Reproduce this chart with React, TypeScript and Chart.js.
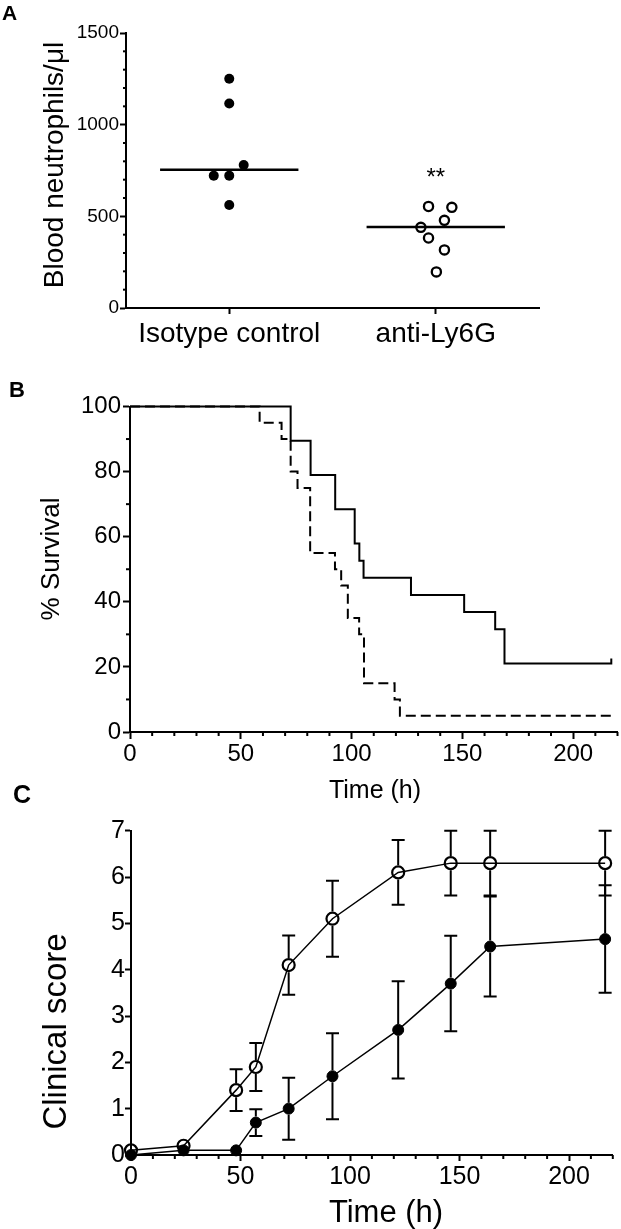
import React, { useEffect, useRef } from 'react';
import { Chart, registerables } from 'chart.js';

Chart.register(...registerables);

const FONT = '"Liberation Sans", Arial, Helvetica, sans-serif';

// ---------- Panel A data ----------
const groupLabels = ['Isotype control', 'anti-Ly6G'];
const groupPositions = [0.5, 1.5];
const isotypeX = [0.5, 0.5, 0.57, 0.425, 0.5, 0.5];
const isotypeY = [1250, 1115, 780, 722, 722, 562];
const antiX = [1.465, 1.578, 1.542, 1.428, 1.465, 1.542, 1.503];
const antiY = [554, 549, 478, 440, 382, 317, 197];
const medians = [754, 442];
const medianHalfWidth = 0.335;
const aYMax = 1500;
const aYStep = 500;
const signifText = '**';
const signifValue = 745;

// ---------- Panel B data (Kaplan-Meier) ----------
const isoTimes = [0, 72.5, 81.5, 92.6, 101.4, 103.5, 105.4, 126.8, 150.8, 164.8, 169, 217.2, 217.2];
const isoSurv = [100, 89.47, 78.95, 68.42, 57.89, 52.63, 47.37, 42.11, 36.84, 31.58, 21.05, 21.05, 22.6];
const antiTimes = [0, 58.5, 68.4, 72.5, 75.6, 81.3, 92.5, 95.3, 98.3, 103.4, 105.6, 119.4, 121.8, 217.2];
const antiSurv = [100, 95, 90, 80, 75, 55, 50, 45, 35, 30, 15, 10, 5, 5];

// ---------- Panel C data ----------
const cTimes = [0, 24, 48, 57, 72, 92, 122, 146, 164, 216.5];
const antiScore = [0.1, 0.2, 1.4, 1.9, 4.1, 5.1, 6.1, 6.3, 6.3, 6.3];
const antiSem = [0, 0, 0.45, 0.52, 0.64, 0.82, 0.7, 0.7, 0.7, 0.7];
const isoScore = [0, 0.1, 0.1, 0.7, 1.0, 1.7, 2.7, 3.7, 4.5, 4.66];
const isoSem = [0, 0, 0, 0.29, 0.67, 0.93, 1.05, 1.03, 1.08, 1.16];

const timeMax = 220;

const zip = (xs: number[], ys: number[]) => xs.map((x, i) => ({ x, y: ys[i] }));

// ---------- plugins ----------
const decorPlugin = {
  id: 'decor',
  afterDraw(chart: any, _args: any, opts: any) {
    const { ctx, chartArea, scales } = chart;
    ctx.save();
    (opts.minor || []).forEach((m: any) => {
      const sc = scales[m.axis];
      ctx.strokeStyle = '#000';
      ctx.lineWidth = m.width;
      const n = Math.round((sc.max - sc.min) / m.step);
      for (let k = 0; k <= n; k++) {
        const v = sc.min + k * m.step;
        const r = v / m.major;
        if (Math.abs(r - Math.round(r)) < 1e-6) continue;
        const p = sc.getPixelForValue(v);
        ctx.beginPath();
        if (m.axis === 'x') {
          ctx.moveTo(p, chartArea.bottom);
          ctx.lineTo(p, chartArea.bottom + m.len);
        } else {
          ctx.moveTo(chartArea.left, p);
          ctx.lineTo(chartArea.left - m.len, p);
        }
        ctx.stroke();
      }
    });
    (opts.texts || []).forEach((t: any) => {
      ctx.save();
      ctx.font = t.font;
      ctx.fillStyle = '#000';
      ctx.textAlign = t.align || 'center';
      ctx.textBaseline = t.baseline || 'middle';
      let x = t.x;
      let y = t.y;
      if (t.xv !== undefined) x = scales.x.getPixelForValue(t.xv);
      if (t.yv !== undefined) y = scales.y.getPixelForValue(t.yv);
      ctx.translate(x, y + (t.dy || 0));
      if (t.rotate) ctx.rotate(t.rotate);
      ctx.fillText(t.text, 0, 0);
      ctx.restore();
    });
    ctx.restore();
  },
};

const errorBarPlugin = {
  id: 'errorBars',
  afterDatasetsDraw(chart: any, _args: any, opts: any) {
    const { ctx } = chart;
    const yScale = chart.scales.y;
    chart.data.datasets.forEach((ds: any, i: number) => {
      if (!ds.errors) return;
      const meta = chart.getDatasetMeta(i);
      const gap = (ds.pointRadius || 0) + (ds.pointBorderWidth || 0) / 2;
      ctx.save();
      ctx.strokeStyle = '#000';
      ctx.lineWidth = opts.width || 2;
      meta.data.forEach((pt: any, j: number) => {
        const e = ds.errors[j];
        if (!e) return;
        const v = ds.data[j].y;
        const yHi = yScale.getPixelForValue(v + e);
        const yLo = yScale.getPixelForValue(v - e);
        const cw = opts.cap || 6;
        ctx.beginPath();
        if (pt.y - gap > yHi) {
          ctx.moveTo(pt.x, yHi);
          ctx.lineTo(pt.x, pt.y - gap);
        }
        if (pt.y + gap < yLo) {
          ctx.moveTo(pt.x, pt.y + gap);
          ctx.lineTo(pt.x, yLo);
        }
        ctx.moveTo(pt.x - cw, yHi);
        ctx.lineTo(pt.x + cw, yHi);
        ctx.moveTo(pt.x - cw, yLo);
        ctx.lineTo(pt.x + cw, yLo);
        ctx.stroke();
      });
      ctx.restore();
    });
  },
};

// ---------- helpers ----------
function axis(opts: {
  min: number; max: number; step?: number; tickLen: number; fontSize: number;
  pad: number; fit: number; isX: boolean; labels?: (v: number, i: number) => string; extra?: any;
}) {
  return {
    type: 'linear',
    position: opts.isX ? 'bottom' : 'left',
    min: opts.min,
    max: opts.max,
    border: { display: true, color: '#000', width: 2 },
    grid: {
      display: true,
      drawOnChartArea: false,
      drawTicks: true,
      tickLength: opts.tickLen,
      tickWidth: 2,
      tickColor: '#000',
    },
    ticks: {
      stepSize: opts.step,
      includeBounds: false,
      autoSkip: false,
      maxRotation: 0,
      minRotation: 0,
      padding: opts.pad,
      color: '#000',
      font: { family: FONT, size: opts.fontSize },
      callback: opts.labels ? (v: number, i: number) => opts.labels!(v, i) : (v: number) => String(v),
    },
    title: { display: false },
    afterFit: (s: any) => {
      if (opts.isX) s.height = opts.fit;
      else s.width = opts.fit;
    },
    ...(opts.extra || {}),
  };
}

const basePlugins = { legend: { display: false }, tooltip: { enabled: false } };

const baseOptions = (padding: any) => ({
  responsive: false,
  animation: false,
  devicePixelRatio: 1,
  events: [],
  layout: { padding },
});

function configA(): any {
  const medianData = medians.map((m, i) => [
    { x: groupPositions[i] - medianHalfWidth, y: m },
    { x: groupPositions[i] + medianHalfWidth, y: m },
  ]);
  return {
    type: 'line',
    data: {
      datasets: [
        ...medianData.map((d) => ({
          data: d, borderColor: '#000', borderWidth: 2.5, pointRadius: 0, showLine: true, clip: false,
        })),
        {
          data: zip(isotypeX, isotypeY), showLine: false, pointRadius: 5, pointBorderWidth: 0,
          pointBackgroundColor: '#000', pointBorderColor: '#000', clip: false,
        },
        {
          data: zip(antiX, antiY), showLine: false, pointRadius: 4.6, pointBorderWidth: 2.3,
          pointBackgroundColor: 'rgba(0,0,0,0)', pointBorderColor: '#000', clip: false,
        },
      ],
    },
    options: {
      ...baseOptions({ left: 0, top: 33, right: 82, bottom: 0 }),
      scales: {
        x: axis({
          min: 0, max: 2, tickLen: 6, fontSize: 28, pad: 3, fit: 52, isX: true,
          labels: (_v, i) => groupLabels[i],
          extra: {
            afterBuildTicks: (s: any) => { s.ticks = groupPositions.map((v) => ({ value: v })); },
          },
        }),
        y: axis({ min: 0, max: aYMax, step: aYStep, tickLen: 6, fontSize: 19, pad: 1, fit: 126, isX: false }),
      },
      plugins: {
        ...basePlugins,
        decor: {
          minor: [{ axis: 'y', step: 100, major: aYStep, len: 3, width: 2 }],
          texts: [
            { text: 'A', x: 2, y: 20, font: `bold 21px ${FONT}`, align: 'left', baseline: 'alphabetic' },
            { text: 'Blood neutrophils/μl', x: 55, y: 165, rotate: -Math.PI / 2, font: `28px ${FONT}` },
            { text: signifText, xv: groupPositions[1], yv: signifValue, dy: 13.5, font: `24px ${FONT}`, baseline: 'alphabetic' },
          ],
        },
      },
    },
    plugins: [decorPlugin],
  };
}

function configB(): any {
  return {
    type: 'line',
    data: {
      datasets: [
        {
          data: zip(isoTimes, isoSurv), stepped: 'before', borderColor: '#000', borderWidth: 2,
          pointRadius: 0, clip: false,
        },
        {
          data: zip(antiTimes, antiSurv), stepped: 'before', borderColor: '#000', borderWidth: 2,
          borderDash: [10, 5], pointRadius: 0, clip: false,
        },
      ],
    },
    options: {
      ...baseOptions({ left: 0, top: 46.5, right: 3.5, bottom: 0 }),
      scales: {
        x: axis({ min: 0, max: timeMax, step: 50, tickLen: 7, fontSize: 24, pad: 1, fit: 78, isX: true }),
        y: axis({ min: 0, max: 100, step: 20, tickLen: 7, fontSize: 24, pad: 2, fit: 130, isX: false }),
      },
      plugins: {
        ...basePlugins,
        decor: {
          minor: [
            { axis: 'x', step: 10, major: 50, len: 4, width: 2 },
            { axis: 'y', step: 10, major: 20, len: 4, width: 2 },
          ],
          texts: [
            { text: 'B', x: 9, y: 37, font: `bold 22px ${FONT}`, align: 'left', baseline: 'alphabetic' },
            { text: '% Survival', x: 52, y: 199, rotate: -Math.PI / 2, font: `26px ${FONT}` },
            { text: 'Time (h)', x: 375, y: 431, font: `25px ${FONT}` },
          ],
        },
      },
    },
    plugins: [decorPlugin],
  };
}

function configC(): any {
  return {
    type: 'line',
    data: {
      datasets: [
        {
          data: zip(cTimes, isoScore), errors: isoSem, borderColor: '#000', borderWidth: 1.5,
          pointRadius: 5.5, pointBorderWidth: 1, pointBackgroundColor: '#000', pointBorderColor: '#000',
          clip: false,
        },
        {
          data: zip(cTimes, antiScore), errors: antiSem, borderColor: '#000', borderWidth: 1.5,
          pointRadius: 6, pointBorderWidth: 2.2, pointBackgroundColor: 'rgba(0,0,0,0)', pointBorderColor: '#000',
          clip: false,
        },
      ],
    },
    options: {
      ...baseOptions({ left: 0, top: 50.7, right: 3, bottom: 0 }),
      scales: {
        x: axis({ min: 0, max: timeMax, step: 50, tickLen: 6, fontSize: 25, pad: 1, fit: 74, isX: true }),
        y: axis({ min: 0, max: 7, step: 1, tickLen: 6, fontSize: 25, pad: 0, fit: 131, isX: false }),
      },
      plugins: {
        ...basePlugins,
        errorBars: { width: 2, cap: 6.5 },
        decor: {
          minor: [{ axis: 'x', step: 10, major: 50, len: 4, width: 2 }],
          texts: [
            { text: 'C', x: 13, y: 23.3, font: `bold 25px ${FONT}`, align: 'left', baseline: 'alphabetic' },
            { text: 'Clinical score', x: 57.4, y: 251.5, rotate: -Math.PI / 2, font: `33px ${FONT}` },
            { text: 'Time (h)', x: 386, y: 433, font: `31px ${FONT}` },
          ],
        },
      },
    },
    plugins: [errorBarPlugin, decorPlugin],
  };
}

export default function App() {
  const refA = useRef<HTMLCanvasElement>(null);
  const refB = useRef<HTMLCanvasElement>(null);
  const refC = useRef<HTMLCanvasElement>(null);

  useEffect(() => {
    const charts = [
      new Chart(refA.current as HTMLCanvasElement, configA()),
      new Chart(refB.current as HTMLCanvasElement, configB()),
      new Chart(refC.current as HTMLCanvasElement, configC()),
    ];
    return () => charts.forEach((c) => c.destroy());
  }, []);

  const cs = (top: number, h: number): React.CSSProperties => ({
    position: 'absolute', left: 0, top, width: 621, height: h, display: 'block',
  });

  return (
    <div style={{ position: 'absolute', left: 0, top: 0, width: 621, height: 1229, background: '#fff', overflow: 'hidden' }}>
      <canvas ref={refA} width={621} height={360} style={cs(0, 360)} />
      <canvas ref={refB} width={621} height={450} style={cs(360, 450)} />
      <canvas ref={refC} width={621} height={449} style={cs(780, 449)} />
    </div>
  );
}
